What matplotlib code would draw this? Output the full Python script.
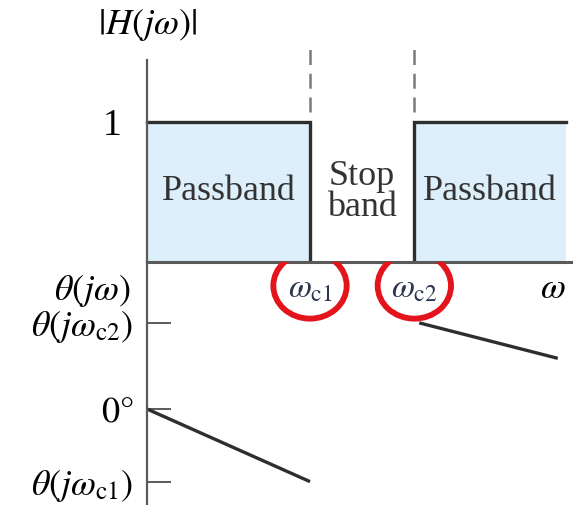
import numpy as np
import matplotlib
matplotlib.use("Agg")
import matplotlib.pyplot as plt
from matplotlib.patches import Ellipse

plt.rcParams['font.family'] = ['Liberation Serif', 'DejaVu Serif']
plt.rcParams['mathtext.fontset'] = 'stix'

# frequency axis (normalised so that wc1 = 1)
wc1 = 1.0
wc2 = 1.64
w_end = 2.57
w_phase_end = 2.52

# band-reject magnitude response
mag_w = [0.0, wc1, wc1, wc2, wc2, w_end]
mag_h = [1.0, 1.0, 0.0, 0.0, 1.0, 1.0]

# phase response (degrees)
theta_c1 = -43.0
theta_c2 = 51.0
theta_end = 30.0
phase_ticks = [theta_c2, 0.0, theta_c1]
phase_labels = [r'$\theta(j\omega_{\rm c2})$', r'$0°$', r'$\theta(j\omega_{\rm c1})$']

band_labels = ['Passband', 'Stop\nband', 'Passband']

INK = '#2e2e2e'
AXIS = '#5a5a5a'
FILL = '#ddeffa'
RED = '#e3141c'

fig = plt.figure(figsize=(5.73, 5.05), dpi=100)
W, H = 573, 505
x_left = -147 / 163
x_right = 426 / 163

# magnitude panel: top of figure down to the frequency axis
ax_m = fig.add_axes([0, 1 - 262 / H, 1, 262 / H])
ax_m.set_xlim(x_left, x_right)
ax_m.set_ylim(0, 262 / 140)

# phase panel: frequency axis down to bottom
ax_p = fig.add_axes([0, 0, 1, 243 / H])
ax_p.set_xlim(x_left, x_right)
ax_p.set_ylim(-96 / 1.689, 147 / 1.689)

for ax in (ax_m, ax_p):
    for s in ('top', 'right', 'bottom'):
        ax.spines[s].set_visible(False)
    ax.spines['left'].set_position(('data', 0))
    ax.spines['left'].set_color(AXIS)
    ax.spines['left'].set_linewidth(1.6)
    ax.set_xticks([])
    ax.patch.set_alpha(0)

# shared vertical axis line
ax_m.spines['left'].set_bounds(0, 1.44)

# frequency axis
ax_m.plot([0, x_right], [0, 0], color=AXIS, lw=2.2, clip_on=False, zorder=3)

# passband shading and magnitude curve
ax_m.fill_between([0, wc1], 0, 1, color=FILL, lw=0)
ax_m.fill_between([wc2, w_end], 0, 1, color=FILL, lw=0)
ax_m.plot(mag_w[:3], mag_h[:3], color=INK, lw=2.4, solid_joinstyle='miter')
ax_m.plot(mag_w[3:], mag_h[3:], color=INK, lw=2.4, solid_joinstyle='miter')

# dashed markers above the cutoff frequencies
for wc in (wc1, wc2):
    ax_m.plot([wc, wc], [1.07, 1.53], color='#7a7a7a', lw=1.8,
              dashes=(6, 3.5), clip_on=False)

ax_m.set_yticks([1.0], ['1'])
ax_m.tick_params(axis='y', length=0, pad=18, labelsize=27)

ax_m.text(0, 1.82, r'$|H(j\omega)|$', ha='center', va='top', fontsize=26)

band_x = [wc1 / 2, (wc1 + wc2) / 2, (wc2 + w_end) / 2]
for bx, lab in zip(band_x, band_labels):
    ax_m.text(bx, 0.5, lab, ha='center', va='center', fontsize=26,
              color='#333333', linespacing=0.95)

# phase curve
ax_p.plot([0, wc1], [0, theta_c1], color=INK, lw=2.4, solid_capstyle='butt')
ax_p.plot([wc2 + 0.03, w_phase_end], [theta_c2, theta_end], color=INK, lw=2.4,
          solid_capstyle='butt')

ax_p.set_yticks(phase_ticks, phase_labels)
ax_p.tick_params(axis='y', direction='in', length=17, width=1.4, color=AXIS,
                 pad=10, labelsize=26)

ax_p.text(-0.1, 70, r'$\theta(j\omega)$', ha='right', va='center', fontsize=26)
ax_p.text(2.49, 71, r'$\omega$', ha='center', va='center', fontsize=26)

# highlighted cutoff frequencies
for wc, lab in ((wc1, r'$\omega_{\rm c1}$'), (wc2, r'$\omega_{\rm c2}$')):
    ax_p.text(wc, 71, lab, ha='center', va='center', fontsize=24, color='#2c3550')
    ax_p.add_patch(Ellipse((wc, 73), 0.45, 39, fill=False, ec=RED, lw=4.2, zorder=5))

fig.savefig('out.png', dpi=100)
